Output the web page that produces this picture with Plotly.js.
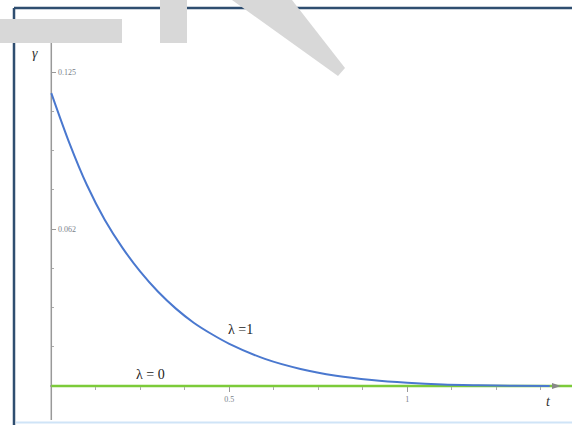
<!DOCTYPE html>
<html>
<head>
<meta charset="utf-8">
<script src="https://cdn.plot.ly/plotly-3.0.1.min.js"></script>
<style>html,body{margin:0;padding:0;background:#fff;}#chart{width:572px;height:425px;}</style>
</head>
<body>
<div id="chart"></div>
<script>
// Series
const tLambda1 = [0, 0.05, 0.1, 0.15, 0.2, 0.25, 0.3, 0.35, 0.4, 0.45, 0.5, 0.6, 0.7, 0.8, 0.9, 1.0, 1.1, 1.2, 1.3, 1.4];
const gammaLambda1 = [0.1166, 0.0970, 0.0800, 0.0662, 0.0550, 0.0455, 0.0375, 0.0308, 0.0252, 0.0207, 0.0168, 0.0108, 0.0068, 0.0041, 0.0024, 0.0013, 0.0006, 0.0003, 0.0001, 0.0];
const tLambda0 = [0, 1.47];
const gammaLambda0 = [0, 0];

const xTickVals = [0.5, 1];
const xTickText = ["0.5", "1"];
const xMinorVals = [0.125, 0.25, 0.375, 0.625, 0.75, 0.875, 1.125, 1.25, 1.375];
const yTickVals = [0.0625, 0.125];
const yTickText = ["0.062", "0.125"];
const yMinorVals = [0.015625, 0.03125, 0.046875, 0.078125, 0.09375, 0.109375];

const W = 572, H = 425;
const px = x => x / W;          // pixel -> paper x
const py = y => 1 - y / H;      // pixel -> paper y

const SERIF = 'Liberation Serif';

const traces = [
  {x: tLambda0, y: gammaLambda0, mode: 'lines', line: {color: '#7ccb3a', width: 2.6}, hoverinfo: 'skip'},
  {x: tLambda1, y: gammaLambda1, mode: 'lines', line: {color: '#4a78cf', width: 2, shape: 'spline', smoothing: 0.8}, hoverinfo: 'skip'}
];

const tickFont = {family: SERIF, size: 8, color: '#7a7f8a'};

const layout = {
  width: W, height: H,
  margin: {l: 0, r: 0, t: 0, b: 0},
  paper_bgcolor: '#fff', plot_bgcolor: '#fff',
  showlegend: false,
  xaxis: {
    range: [-0.1441, 1.4626], showgrid: false, zeroline: false, showline: false,
    anchor: 'free', position: 0.0918, side: 'bottom',
    tickmode: 'array', tickvals: xTickVals, ticktext: xTickText,
    ticks: 'outside', ticklen: 5, tickcolor: '#999', tickwidth: 1,
    tickfont: tickFont, automargin: false,
    minor: {tickmode: 'array', tickvals: xMinorVals, ticks: 'outside', ticklen: 3, tickcolor: '#aaa'}
  },
  yaxis: {
    range: [-0.015525, 0.15366], showgrid: false, zeroline: false, showline: false,
    anchor: 'free', position: 0.0897, side: 'right',
    tickmode: 'array', tickvals: yTickVals, ticktext: yTickText,
    ticks: 'outside', ticklen: 4, tickcolor: '#999', tickwidth: 1,
    tickfont: tickFont, automargin: false,
    minor: {tickmode: 'array', tickvals: yMinorVals, ticks: 'outside', ticklen: 2, tickcolor: '#aaa'}
  },
  shapes: [
    // axes lines
    {type: 'line', xref: 'paper', yref: 'paper', x0: px(51.3), x1: px(51.3), y0: py(420), y1: py(30), line: {color: '#999', width: 1.5}, layer: 'below'},
    {type: 'line', xref: 'paper', yref: 'paper', x0: px(50), x1: px(565), y0: py(386), y1: py(386), line: {color: '#999', width: 1.5}, layer: 'below'},
    // arrow heads
    {type: 'path', xref: 'paper', yref: 'paper', path: `M ${px(51.3)} ${py(26)} L ${px(48.5)} ${py(35)} L ${px(54.1)} ${py(35)} Z`, fillcolor: '#888', line: {width: 0}},
    {type: 'path', xref: 'paper', yref: 'paper', path: `M ${px(561)} ${py(386)} L ${px(552)} ${py(383)} L ${px(552)} ${py(389)} Z`, fillcolor: '#888', line: {width: 0}},
    // frame
    {type: 'line', xref: 'paper', yref: 'paper', x0: px(14), x1: px(14), y0: py(8), y1: py(425), line: {color: '#2f4e70', width: 2.5}},
    {type: 'line', xref: 'paper', yref: 'paper', x0: px(14), x1: px(572), y0: py(8), y1: py(8), line: {color: '#2f4e70', width: 2.5}},
    {type: 'line', xref: 'paper', yref: 'paper', x0: px(16), x1: px(572), y0: py(422.5), y1: py(422.5), line: {color: '#cfe4f7', width: 2}},
    // watermark overlay
    {type: 'rect', xref: 'paper', yref: 'paper', x0: px(0), x1: px(122), y0: py(43), y1: py(19), fillcolor: '#d8d8d8', line: {width: 0}},
    {type: 'rect', xref: 'paper', yref: 'paper', x0: px(160), x1: px(187), y0: py(43), y1: py(0), fillcolor: '#d8d8d8', line: {width: 0}},
    {type: 'path', xref: 'paper', yref: 'paper', path: `M ${px(232)} ${py(0)} L ${px(292)} ${py(0)} L ${px(345)} ${py(68)} L ${px(338)} ${py(76)} Z`, fillcolor: '#d8d8d8', line: {width: 0}}
  ],
  annotations: [
    {xref: 'paper', yref: 'paper', x: px(35), y: py(53), text: '<i>γ</i>', showarrow: false, font: {family: SERIF, size: 14, color: '#333'}, xanchor: 'center', yanchor: 'middle'},
    {xref: 'paper', yref: 'paper', x: px(548), y: py(401), text: '<i>t</i>', showarrow: false, font: {family: SERIF, size: 14, color: '#333'}, xanchor: 'center', yanchor: 'middle'},
    {xref: 'paper', yref: 'paper', x: px(240), y: py(329), text: 'λ =1', showarrow: false, font: {family: SERIF, size: 14, color: '#222'}, xanchor: 'center', yanchor: 'middle'},
    {xref: 'paper', yref: 'paper', x: px(150), y: py(374), text: 'λ = 0', showarrow: false, font: {family: SERIF, size: 14, color: '#222'}, xanchor: 'center', yanchor: 'middle'}
  ]
};

Plotly.newPlot('chart', traces, layout, {displayModeBar: false, staticPlot: true});
</script>
</body>
</html>
